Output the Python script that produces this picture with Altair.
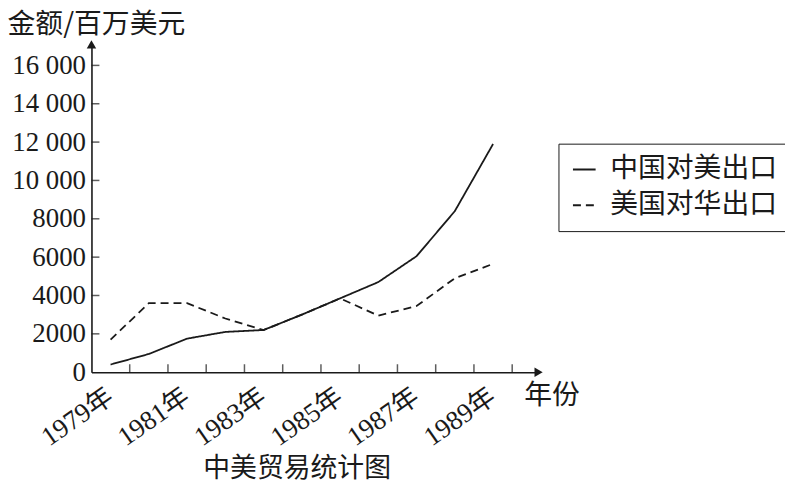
import altair as alt
import pandas as pd

years = list(range(1979, 1990))
china_to_us = [400, 950, 1750, 2100, 2200, 3000, 3850, 4700, 6050, 8400, 11900]
us_to_china = [1700, 3600, 3600, 2800, 2200, 3000, 3850, 2950, 3450, 4900, 5650]
series_names = ["中国对美出口", "美国对华出口"]
x_label_years = [1979, 1981, 1983, 1985, 1987, 1989]
x_tick_positions = [y + 0.5 for y in years]
y_tick_values = [2000, 4000, 6000, 8000, 10000, 12000, 14000, 16000]
y_label_values = [0] + y_tick_values

X_MIN, X_MAX = 1978.5, 1990.19
Y_MAX = 17100
W, H = 450, 330
SERIF = "Liberation Serif, Noto Sans CJK SC"
CJK = "Noto Sans CJK SC"
INK = "#1a1a1a"

rows = []
for name, vals in zip(series_names, [china_to_us, us_to_china]):
    for yr, v in zip(years, vals):
        rows.append({"year": yr, "value": v, "series": name})
df = pd.DataFrame(rows)

x_axis = alt.Axis(
    values=x_label_years, labelExpr="datum.value + '年'", labelAngle=325,
    labelAlign="right", labelBaseline="top", labelPadding=11, labelOffset=-8,
    labelFontSize=27, labelFont=SERIF, labelColor=INK, labelOverlap=False,
    ticks=False, grid=False, domainColor=INK, domainWidth=1.6, title="年份",
    titleFont=CJK, titleFontSize=28, titleFontWeight="normal", titleColor=INK,
    titleX=435, titleY=24, titleAlign="left", titleBaseline="middle", titleAngle=0,
)
y_axis = alt.Axis(
    values=y_label_values,
    labelExpr="datum.value >= 10000 ? floor(datum.value/1000) + ' 000' : datum.value + ''",
    labelPadding=6, labelFontSize=27, labelFont=SERIF, labelColor=INK,
    labelOverlap=False, ticks=False, grid=False, domainColor=INK, domainWidth=1.6,
    title="金额/百万美元", titleFont=CJK, titleFontSize=28, titleFontWeight="normal",
    titleColor=INK, titleAngle=0, titleAlign="left", titleBaseline="middle",
    titleX=-85, titleY=-20,
)
x_scale = alt.Scale(domain=[X_MIN, X_MAX], nice=False, zero=False)
y_scale = alt.Scale(domain=[0, Y_MAX], nice=False)

lines = alt.Chart(df).mark_line(strokeWidth=1.8, color=INK).encode(
    x=alt.X("year:Q", scale=x_scale, axis=x_axis),
    y=alt.Y("value:Q", scale=y_scale, axis=y_axis),
    strokeDash=alt.StrokeDash(
        "series:N",
        scale=alt.Scale(domain=series_names, range=[[1, 0], [8, 5]]),
        sort=series_names,
        legend=alt.Legend(title=None, orient="none", legendX=470, legendY=100),
    ),
    order=alt.Order("series:N", sort="descending"),
)

xt = pd.DataFrame({"t": x_tick_positions})
x_ticks = alt.Chart(xt).mark_tick(orient="vertical", size=8, thickness=1.5, color=INK).encode(
    x=alt.X("t:Q", scale=x_scale, axis=x_axis),
    y=alt.value(H - 4),
)
yt = pd.DataFrame({"v": y_tick_values})
y_ticks = alt.Chart(yt).mark_tick(orient="horizontal", size=8, thickness=1.5, color=INK).encode(
    y=alt.Y("v:Q", scale=y_scale, axis=y_axis),
    x=alt.value(4),
)

arrow_x = alt.Chart(pd.DataFrame({"ax": [X_MAX], "ay": [0]})).mark_point(
    shape="triangle-right", filled=True, size=90, color=INK, opacity=1
).encode(x=alt.X("ax:Q", scale=x_scale, axis=x_axis), y=alt.Y("ay:Q", scale=y_scale, axis=y_axis))
arrow_y = alt.Chart(pd.DataFrame({"ax": [X_MIN], "ay": [Y_MAX]})).mark_point(
    shape="triangle-up", filled=True, size=90, color=INK, opacity=1
).encode(x=alt.X("ax:Q", scale=x_scale, axis=x_axis), y=alt.Y("ay:Q", scale=y_scale, axis=y_axis))

chart = alt.layer(lines, x_ticks, y_ticks, arrow_x, arrow_y).properties(
    width=W, height=H,
    title=alt.TitleParams(
        text="中美贸易统计图", orient="bottom", anchor="middle", dx=-18, offset=6,
        font=CJK, fontSize=27, fontWeight="normal", color=INK,
    ),
    padding={"left": 84, "top": 35, "right": 248, "bottom": 112},
    autosize=alt.AutoSizeParams(type="none"),
    background="white",
).configure_view(strokeWidth=0).configure_legend(
    strokeColor=INK, fillColor="white", padding=12, symbolType="stroke",
    symbolSize=520, symbolStrokeWidth=1.8, symbolStrokeColor=INK,
    labelFont=CJK, labelFontSize=28, labelColor=INK, labelOffset=12, rowPadding=8,
    labelLimit=400,
)

chart.save("out.html", embed_options={"renderer": "svg", "actions": False})
